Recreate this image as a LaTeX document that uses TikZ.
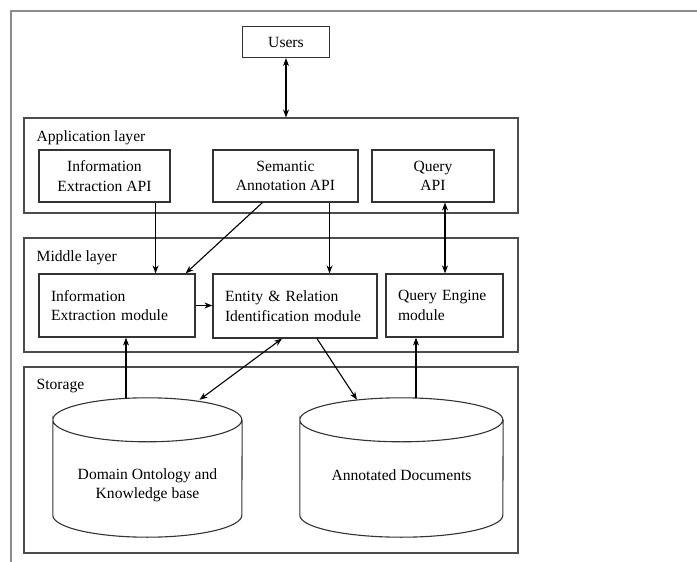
\documentclass[tikz,border=0pt]{standalone}
\usepackage{fontspec}
\setmainfont{Liberation Serif}
\usepackage{tikz}
\usetikzlibrary{arrows.meta, positioning}

% drum outline round a named node: #1 node, #2 half width
\newcommand{\drumline}[2]{%
  \draw[drum] ([yshift=-22pt]#1.north west) arc[start angle=180, end angle=-180, x radius=#2pt, y radius=22pt]
    -- ([yshift=22pt]#1.south west) arc[start angle=180, end angle=360, x radius=#2pt, y radius=22pt]
    -- ([yshift=-22pt]#1.north east);}

\begin{document}
\begin{tikzpicture}[
  x=1pt, y=-1pt,
  every node/.style={font=\fontsize{15.6}{19.5}\selectfont},
  layer/.style={draw=black!70, line width=1.1pt, minimum width=494pt, inner sep=0pt},
  layertitle/.style={anchor=north west, inner sep=0pt, xshift=13pt, yshift=-13pt},
  apibox/.style={draw=black!80, line width=1.1pt, minimum height=52pt, align=center, inner sep=0pt},
  modbox/.style={draw=black!80, line width=1.2pt, minimum height=63pt, align=left, inner xsep=12pt, inner ysep=0pt},
  drum/.style={draw=black!80, line width=1.1pt},
  arrow/.style={-{Stealth[length=8pt, width=6pt]}, line width=1.1pt},
  twoway/.style={{Stealth[length=8pt, width=6pt]}-{Stealth[length=8pt, width=6pt]}, line width=1.1pt},
]
\useasboundingbox (0,0) rectangle (697,562);

% Outer frame (cut at right and bottom)
\draw[black!45, line width=1.2pt] (11,562) |- (697,11);

% Users
\node[draw=black!80, line width=1.1pt, minimum width=87pt, minimum height=31pt, inner sep=0pt] (users) at (286,42) {Users};

% Layers
\node[layer, minimum height=95pt] (app) at (271,165.5) {};
\node[layertitle] at (app.north west) {Application layer};
\node[layer, minimum height=114pt] (mid) at (271,295) {};
\node[layertitle] at (mid.north west) {Middle layer};
\node[layer, minimum height=186pt] (stor) at (271,460) {};
\node[layertitle] at (stor.north west) {Storage};

% Application layer
\node[apibox, minimum width=131pt] (ieapi) at (104.5,176) {Information\\Extraction API};
\node[apibox, minimum width=145pt] (saapi) at (285.5,176) {Semantic\\Annotation API};
\node[apibox, minimum width=122pt] (qapi) at (433,176) {Query\\API};

% Middle layer
\node[modbox, text width=132pt] (iemod) at (117,305.5) {Information\\Extraction module};
\node[modbox, text width=140pt, minimum height=64pt] (ermod) at (295,306) {Entity \& Relation\\Identification module};
\node[modbox, text width=93pt] (qemod) at (444.5,305.5) {Query Engine\\module};

% Storage
\node[minimum width=189pt, minimum height=139pt, inner sep=0pt] (onto) at (147.5,467.5) {};
\drumline{onto}{94.5}
\node[align=center] at ([yshift=-18pt]onto.center) {Domain Ontology and\\Knowledge base};
\node[minimum width=203pt, minimum height=139pt, inner sep=0pt] (docs) at (401.5,467.5) {};
\drumline{docs}{101.5}
\node at ([yshift=-8pt]docs.center) {Annotated Documents};

% Arrows
\draw[twoway] (users.south) -- (users.south |- app.north);
\draw[arrow] ([xshift=-15pt]ieapi.south east) -- ([xshift=-15pt]ieapi.south east |- iemod.north);
\draw[arrow] ([xshift=50pt]saapi.south west) -- ([xshift=-10pt]iemod.north east);
\draw[arrow] ([xshift=-29pt]saapi.south east) -- ([xshift=-29pt]saapi.south east |- ermod.north);
\draw[twoway] ([xshift=12pt]qapi.south) -- ([xshift=12pt]qapi.south |- qemod.north);
\draw[arrow] (iemod.east) -- (iemod.east -| ermod.west);
\draw[arrow] ([xshift=-21.5pt]onto.north) -- ([xshift=-21.5pt]onto.north |- iemod.south);
\draw[twoway] ([xshift=-13pt]ermod.south) -- ([xshift=52pt, yshift=-2pt]onto.north);
\draw[arrow] ([xshift=22pt]ermod.south) -- ([xshift=-44.5pt, yshift=-2pt]docs.north);
\draw[arrow] ([xshift=14.5pt]docs.north) -- ([xshift=14.5pt]docs.north |- qemod.south);

\end{tikzpicture}
\end{document}
